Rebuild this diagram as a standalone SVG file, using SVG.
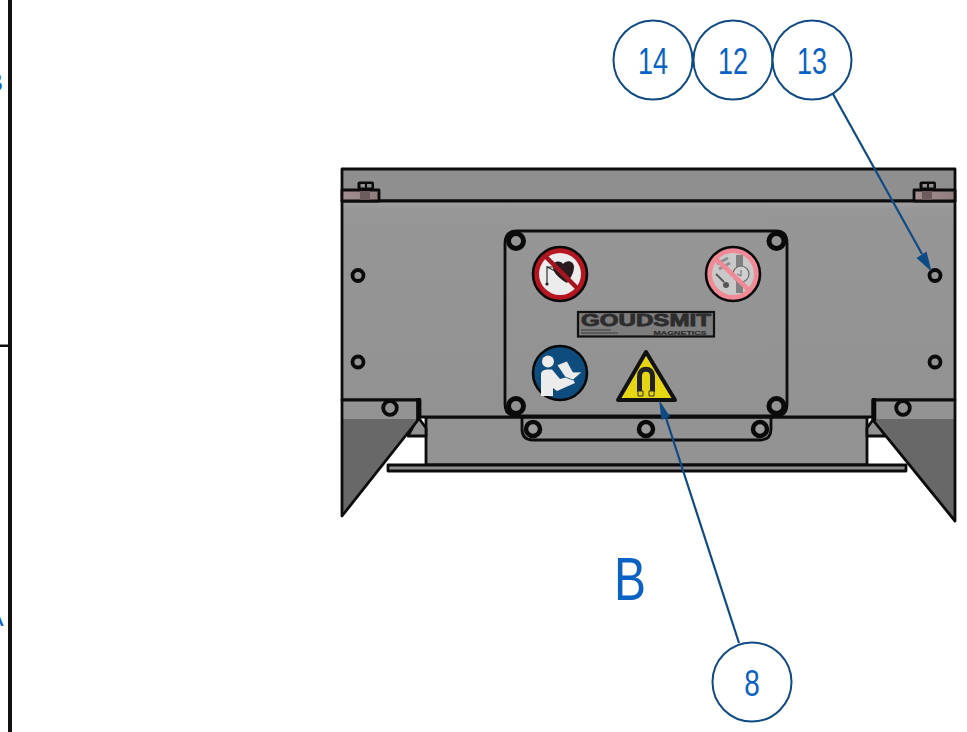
<svg xmlns="http://www.w3.org/2000/svg" width="967" height="732" viewBox="0 0 967 732">
<defs>
<style>
.o{stroke:#0c0c0c;stroke-width:2.800;stroke-linejoin:round;stroke-linecap:round}
.n{fill:none}
.h{fill:none;stroke:#0a0a0a;stroke-width:3.800}
.b{fill:none;stroke:#0a0a0a;stroke-width:5}
.k{fill:#9c9c9c;stroke:#0a0a0a;stroke-width:4.500}
.c{fill:#fff;stroke:#0e4a84;stroke-width:2}
.t{font-family:"Liberation Sans",Arial,sans-serif;fill:#0a62c4;text-anchor:middle;font-size:37px}
.z{font-family:"Liberation Sans",Arial,sans-serif;fill:#0a62c4;font-size:26px;text-anchor:middle}
.l{stroke:#0e4a84;stroke-width:2.200;fill:none}
.a{fill:#0e4a84}
</style>
<linearGradient id="g" x1="0" y1="0" x2="0" y2="1"><stop offset="0" stop-color="#a2a2a2"/><stop offset=".04" stop-color="#969696"/><stop offset="1" stop-color="#929292"/></linearGradient>
<linearGradient id="p" x1="0" y1="0" x2="1" y2="0"><stop offset="0" stop-color="#a59090"/><stop offset="1" stop-color="#8e7c7c"/></linearGradient>
</defs>
<g id="frame">
<rect x="8" y="0" width="4" height="732" fill="#111"/>
<rect x="0" y="344.500" width="10" height="2.500" fill="#111"/>
<text x="-5.500" y="91" class="z">B</text>
<text x="-5" y="626" class="z">A</text>
</g>
<g id="housing">
<path d="M342 169H955V201H342Z" fill="#8f8f8f" class="o"/>
<path d="M426 417H867V465H426Z" fill="#939393" class="o"/>
<path d="M418 417L426 428V436H408Z" fill="#939393" class="o"/>
<path d="M875 417L867 428V436H885Z" fill="#939393" class="o"/>
<path d="M342 201H955V400H873V417H420V400H342Z" fill="url(#g)" class="o"/>
<path d="M342 400H420V417L342 516Z" fill="#939393"/>
<path d="M342 419H418L342 516Z" fill="#686868"/>
<path d="M342 400H418V420L342 516Z" class="o n"/>
<path d="M873 400H955V521L873 420Z" fill="#939393"/>
<path d="M875 419H955V521Z" fill="#686868"/>
<path d="M873 400H955V521L873 420Z" class="o n"/>
<path d="M418.500 398V421" stroke="#0a0a0a" stroke-width="4.500"/>
<path d="M874 398V421" stroke="#0a0a0a" stroke-width="4.500"/>
<path d="M388 465H906V471H388Z" fill="#8f8f8f" class="o"/>
</g>
<g id="bolts">
<path d="M342 190H379V201H342Z" fill="url(#p)" class="o"/>
<rect x="360" y="191" width="10" height="9" fill="#6c5c5c"/>
<rect x="357.500" y="181.500" width="16.500" height="8" rx="2" fill="#0a0a0a"/>
<rect x="360.500" y="184" width="4.500" height="3.500" fill="#8f8f8f"/>
<rect x="367" y="184" width="4.500" height="3.500" fill="#8f8f8f"/>
<path d="M955 190H914V201H955Z" fill="url(#p)" class="o"/>
<rect x="922" y="191" width="10" height="9" fill="#6c5c5c"/>
<rect x="919.500" y="181.500" width="16.500" height="8" rx="2" fill="#0a0a0a"/>
<rect x="922.500" y="184" width="4.500" height="3.500" fill="#8f8f8f"/>
<rect x="929" y="184" width="4.500" height="3.500" fill="#8f8f8f"/>
<circle class="h" cx="358" cy="275.500" r="5.500"/>
<circle class="h" cx="358" cy="362" r="5.500"/>
<circle class="h" cx="935" cy="275.500" r="5.500"/>
<circle class="h" cx="935" cy="362" r="5.500"/>
<circle class="h" cx="390" cy="408" r="6.800"/>
<circle class="h" cx="903" cy="408" r="6.800"/>
</g>
<g id="plate">
<path d="M505 398V243Q505 231 517 231H776Q787 231 787 243V404Q787 416 776 416H517Q505 416 505 404Z" class="o n"/>
<path d="M522 417V429Q522 440 533 440H760Q771 440 771 429V417" class="o n"/>
<circle class="b" cx="516" cy="241" r="7.500"/>
<circle class="b" cx="776.500" cy="241" r="7.500"/>
<circle class="b" cx="516" cy="406" r="7.500"/>
<circle class="b" cx="776.500" cy="406" r="7.500"/>
<circle class="k" cx="533" cy="429" r="7"/>
<circle class="k" cx="646" cy="429" r="7"/>
<circle class="k" cx="760" cy="429" r="7"/>
</g>
<g id="sign-heart">
<circle cx="560" cy="274" r="27" fill="#b5161f" stroke="#0a0a0a" stroke-width="2.600"/>
<circle cx="560" cy="274" r="21" fill="#ececec"/>
<path d="M547 266V283M547 267H553M547 267L555 271" fill="none" stroke="#333" stroke-width="1.200"/>
<circle cx="547" cy="284" r="1.600" fill="#222"/>
<path d="M567 283C560 279 553 273 553 267C553 261 560 260 563 264C567 259 574 261 574 267C574 273 570 279 567 283Z" fill="#2a1a1c"/>
<path d="M544 255L577 288" stroke="#a5151f" stroke-width="4.500"/>
</g>
<g id="sign-watch">
<circle cx="733" cy="274" r="27" fill="#f08a96" stroke="#0a0a0a" stroke-width="2.600"/>
<circle cx="733" cy="274" r="21" fill="#c9c9c9"/>
<rect x="736" y="255" width="7" height="38" fill="#808080"/>
<circle cx="741" cy="274" r="8" fill="#cfcfcf" stroke="#666" stroke-width="1.200"/>
<path d="M741 270V276L737 274" fill="none" stroke="#666"/>
<path d="M717 264L728 258M719 269L730 263" stroke="#8f8f8f" stroke-width="3"/>
<path d="M716 274L724 282" stroke="#555" stroke-width="1.800"/>
<circle cx="726" cy="285" r="3" fill="#555"/>
<path d="M714 257L750 291" stroke="#f08a96" stroke-width="4.500"/>
</g>
<g id="logo">
<rect x="578" y="312" width="136" height="24.500" fill="#7d7d7d" stroke="#111" stroke-width="2.200"/>
<text x="646" y="325.500" font-family="'Liberation Sans',Arial,sans-serif" font-weight="700" font-size="16" fill="#2d2d2d" stroke="#2d2d2d" stroke-width=".8" text-anchor="middle" textLength="130" lengthAdjust="spacingAndGlyphs">GOUDSMIT</text>
<text x="680" y="334.500" font-family="'Liberation Sans',Arial,sans-serif" font-weight="700" font-size="6.200" fill="#2d2d2d" stroke="#2d2d2d" stroke-width=".2" text-anchor="middle" textLength="53" lengthAdjust="spacingAndGlyphs">MAGNETICS</text>
<path d="M581 330H611M581 333H618" stroke="#3a3a3a" stroke-width="1"/>
</g>
<g id="sign-manual">
<circle cx="560" cy="373" r="27" fill="#0f4c7e" stroke="#0a0a0a" stroke-width="2.600"/>
<circle cx="548" cy="361.500" r="6" fill="#ececec"/>
<path d="M541 374Q541 370 547 369.500H552L560 379L571 376L575 383L557 391L553 388V396H541Z" fill="#ececec"/>
<path d="M557 365L567 361L573 372L582 372L573 380L565 377Z" fill="#ececec" stroke="#0f4c7e" stroke-width=".8"/>
</g>
<g id="sign-magnet">
<path d="M646 352L675 400H618Z" fill="#e6d512" stroke="#111" stroke-width="4" stroke-linejoin="round"/>
<path d="M639.500 392V376C639.500 367 652.500 367 652.500 376V392" fill="none" stroke="#222" stroke-width="5"/>
<path d="M638 391H643V396H638ZM649 391H654V396H649Z" fill="#e6d512" stroke="#333"/>
</g>
<g id="connectors">
<path class="l" d="M833 94L922 254"/>
<path class="a" d="M931.500 271.500L916.500 258L926.500 251.500Z"/>
<path class="l" d="M739 643L666 418"/>
<path class="a" d="M659 400L670 416.500L661.500 420Z"/>
</g>
<g id="callout-14"><circle class="c" cx="653" cy="60" r="39.500"/><text class="t" x="653" y="73.500" textLength="30" lengthAdjust="spacingAndGlyphs">14</text></g>
<g id="callout-12"><circle class="c" cx="733" cy="60" r="39.500"/><text class="t" x="733" y="73.500" textLength="30" lengthAdjust="spacingAndGlyphs">12</text></g>
<g id="callout-13"><circle class="c" cx="812" cy="60" r="39.500"/><text class="t" x="812" y="73.500" textLength="30" lengthAdjust="spacingAndGlyphs">13</text></g>
<g id="callout-8"><circle class="c" cx="752" cy="682" r="39.500"/><text class="t" x="752" y="695.500" textLength="15.500" lengthAdjust="spacingAndGlyphs">8</text></g>
<g id="view-label"><text x="630" y="600" font-family="'Liberation Sans',Arial,sans-serif" font-size="61" fill="#0a62c4" text-anchor="middle" textLength="32" lengthAdjust="spacingAndGlyphs">B</text></g>
</svg>
